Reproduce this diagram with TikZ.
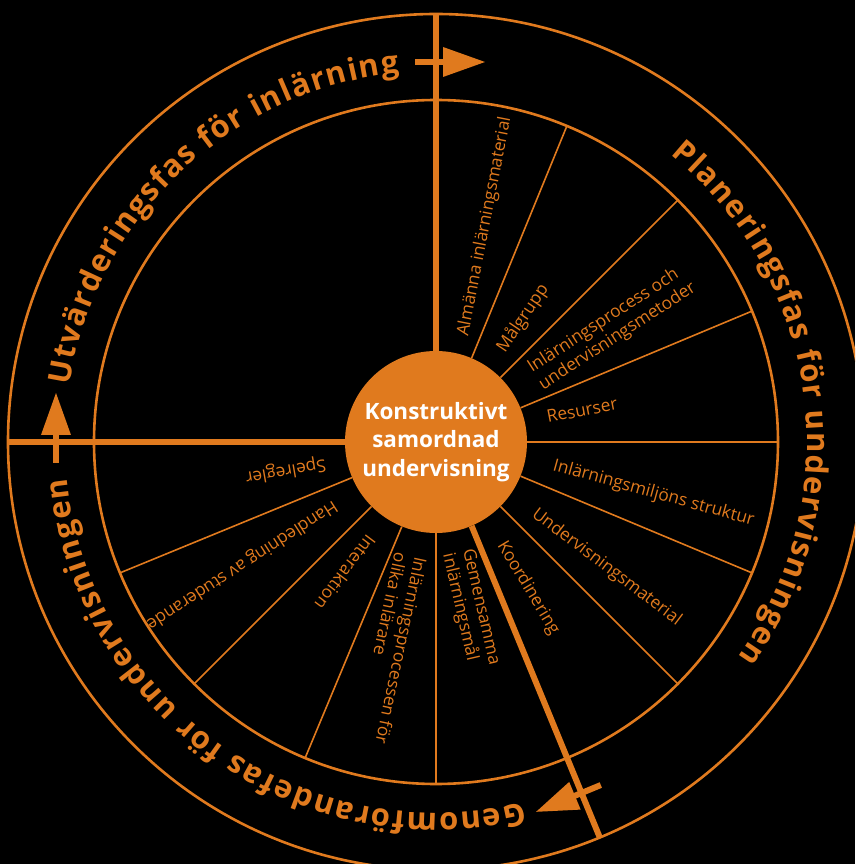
\documentclass[tikz,border=0pt]{standalone}
\usepackage{fontspec}
\setmainfont{Open Sans}
\usetikzlibrary{decorations.text}
\definecolor{org}{RGB}{224,122,30}
\newcommand\phasefont{\fontsize{31}{36}\selectfont\bfseries}
\begin{document}
\begin{tikzpicture}[x=1pt,y=1pt,
  ringline/.style={draw=org, line width=2.6pt},
  spoke/.style={draw=org, line width=1.6pt},
  phaseline/.style={draw=org, line width=6pt},
  lab/.style={text=org, font=\fontsize{17.3}{20.5}\selectfont, inner sep=0pt, anchor=base west},
  phasetext/.style={decorate, decoration={text along path, text align={fit to path}, text color=org, text={|\phasefont|#1}}},
  arrowshaft/.style={draw=org, line width=6pt},
  arrowtip/.style={fill=org}
]
\useasboundingbox (-436,-422) rectangle (419,442);
\fill[black] (-436,-422) rectangle (419,442);
\clip (-436,-422) rectangle (419,442);

% rings
\draw[ringline] (0,0) circle[radius=342];
\draw[ringline] (0,0) circle[radius=428];

% centre
\node[circle, fill=org, minimum size=182pt, inner sep=0pt, text=white,
      font=\fontsize{22.5}{28.5}\selectfont\bfseries, align=center] (c) at (0,0)
      {Konstruktivt\\samordnad\\undervisning};

% rim coordinates and spokes
\foreach \a [count=\i] in {67.5,45,22.5,0,-22.5,-45,-90,-112.5,-135,-157.5}{
  \coordinate (in\i) at (\a:342);
  \draw[spoke] (c.\a) -- (in\i);
}
\foreach \a [count=\i] in {90,180,-67.5}{
  \coordinate (out\i) at (\a:428);
  \draw[phaseline] (c.\a) -- (out\i);
}

% direction arrows
\foreach \a in {90,180,-67.5}{
  \begin{scope}[shift={(\a:380)}, rotate=\a-90]
    \draw[arrowshaft] (-21,0) -- (9,0);
    \fill[arrowtip] (7,15) -- (49,0) -- (7,-15) -- cycle;
  \end{scope}
}

% phase texts
\path[phasetext={Utvärderingsfas för inlärning}] (171.2:371) arc[start angle=171.2, end angle=95.7, radius=371];
\path[phasetext={Planeringsfas för undervisningen}] (50.8:371) arc[start angle=50.8, end angle=-35.4, radius=371];
\path[phasetext={Genomförandefas för undervisningen}] (-76.4:371) arc[start angle=-76.4, end angle=-174.4, radius=371];

% sector labels
\node[lab, rotate=79] (l1) at (32,105) {Almänna inlärningsmaterial};
\node[lab, rotate=56] (l2) at (69,88) {Målgrupp};
\node[lab, rotate=33] (l3) at (96,69) {\begin{tabular}[t]{@{}l@{}}Inlärningsprocess och\\undervisningsmetoder\end{tabular}};
\node[lab, rotate=11] (l4) at (112,19) {Resurser};
\node[lab, rotate=-15.5] (l5) at (116,-28) {Inlärningsmiljöns struktur};
\node[lab, rotate=-37] (l6) at (95,-74) {Undervisningsmaterial};
\node[lab, rotate=-59] (l7) at (61,-103) {Koordinering};
\node[lab, rotate=-77] (l8) at (27,-108) {\begin{tabular}[t]{@{}l@{}}Gemensamma\\inlärningsmål\end{tabular}};
\node[lab, rotate=-102] (l9) at (-21,-114) {\begin{tabular}[t]{@{}l@{}}Inlärningsprocessen för\\olika inlärare\end{tabular}};
\node[lab, rotate=-127] (l10) at (-69,-91) {Interaktion};
\node[lab, rotate=-147] (l11) at (-103,-58) {Handledning av studerande};
\node[lab, rotate=-170] (l12) at (-111,-17) {Spelregler};
\end{tikzpicture}
\end{document}
